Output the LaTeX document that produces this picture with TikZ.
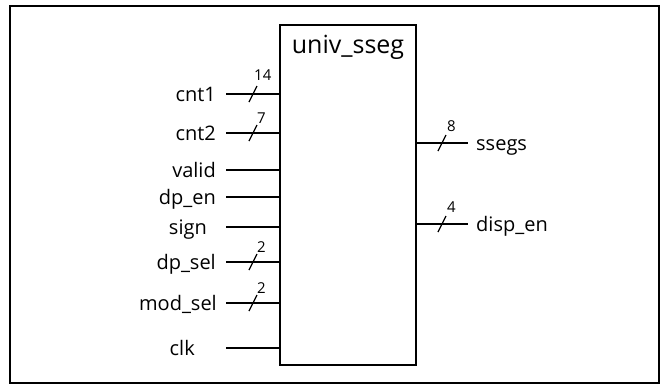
\documentclass[tikz,border=0pt]{standalone}
\usepackage{fontspec}
\setmainfont{Open Sans}
\begin{document}
\begin{tikzpicture}[x=1pt,y=-1pt,
  sig/.style={line width=1.3pt},
  lbl/.style={font=\fontsize{20}{24}\selectfont, inner sep=0pt},
  wlbl/.style={font=\fontsize{15}{18}\selectfont, inner sep=0pt},
  busmark/.style={line width=1.3pt}]
\useasboundingbox (0,0) rectangle (665,384);
\draw[line width=2pt] (10,6) rectangle (659,383);
\node[draw, line width=1.5pt, minimum width=136pt, minimum height=340pt, anchor=north west, inner sep=0pt] (box) at (279,24) {};
\node[lbl, font=\fontsize{25}{30}\selectfont, anchor=base] (title) at (348,53) {univ\_sseg};
% inputs
\foreach \n/\t/\y/\lx in {cnt1/cnt1/94/216, cnt2/cnt2/133/216, valid/valid/170/216, dpen/dp\_en/197/216, sign/sign/227/207, dpsel/dp\_sel/262/216, modsel/mod\_sel/303/217, clk/clk/348/195}{
  \node[lbl, anchor=base east] (\n) at (\lx,\y+7) {\t};
  \coordinate (\n s) at (226,\y);
  \draw[sig] (\n s) -- (\n s -| box.west);
}
% bus marks on inputs
\foreach \n in {cnt1, cnt2, dpsel, modsel}{
  \draw[busmark] ([shift={(23,8)}]\n s) -- ++(8,-16);
}
\node[wlbl, anchor=base west] (w1) at (254,80) {14};
\node[wlbl, anchor=base west] (w2) at (257,123) {7};
\node[wlbl, anchor=base west] (w3) at (257,252) {2};
\node[wlbl, anchor=base west] (w4) at (257,293) {2};
% outputs
\foreach \n/\t/\y in {ssegs/ssegs/143, dispen/disp\_en/224}{
  \coordinate (\n s) at (468,\y);
  \draw[sig] (\n s -| box.east) -- (\n s);
  \node[lbl, anchor=base west] (\n) at (476,\y+7) {\t};
  \draw[busmark] ([shift={(-30,8)}]\n s) -- ++(8,-16);
}
\node[wlbl, anchor=base west] (w5) at (447,131) {8};
\node[wlbl, anchor=base west] (w6) at (447,212) {4};
\end{tikzpicture}
\end{document}
